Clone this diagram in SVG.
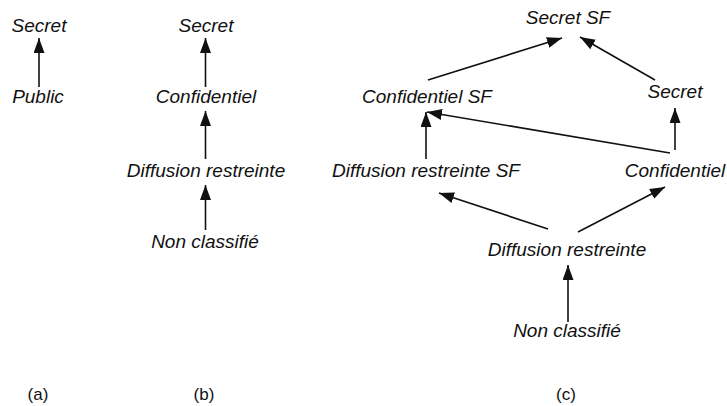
<svg xmlns="http://www.w3.org/2000/svg" width="727" height="406" viewBox="0 0 727 406">
<style>
.n{font-family:"Liberation Sans",Arial,sans-serif;font-style:italic;font-size:19px;fill:#111;text-anchor:middle}
.l{font-family:"Liberation Sans",Arial,sans-serif;font-size:17px;fill:#111;text-anchor:middle}
.e{stroke:#111;stroke-width:1.6;fill:none;marker-end:url(#ah)}
</style>
<defs>
<marker id="ah" markerUnits="userSpaceOnUse" markerWidth="16" markerHeight="12" refX="15" refY="5.5" orient="auto" viewBox="0 0 16 12">
<path d="M0,0 L15,5.5 L0,11 z" fill="#111"/>
</marker>
</defs>
<rect width="727" height="406" fill="#fff"/>
<g id="connectors">
<line class="e" x1="39" y1="87" x2="39" y2="38"/>
<line class="e" x1="205.5" y1="87" x2="205.5" y2="38"/>
<line class="e" x1="205.5" y1="159" x2="205.5" y2="111"/>
<line class="e" x1="205.5" y1="230" x2="205.5" y2="185"/>
<line class="e" x1="428" y1="80" x2="562" y2="38"/>
<line class="e" x1="655" y1="80" x2="580" y2="37"/>
<line class="e" x1="675" y1="150" x2="675" y2="108"/>
<line class="e" x1="670" y1="153" x2="427" y2="112"/>
<line class="e" x1="426" y1="159" x2="426" y2="112"/>
<line class="e" x1="548" y1="229" x2="439" y2="193"/>
<line class="e" x1="578" y1="232" x2="665" y2="187"/>
<line class="e" x1="568" y1="322" x2="568" y2="265"/>
</g>
<g id="a-secret"><text class="n" x="39" y="32">Secret</text></g>
<g id="a-public"><text class="n" x="38" y="103">Public</text></g>
<g id="b-secret"><text class="n" x="206" y="32">Secret</text></g>
<g id="b-confidentiel"><text class="n" x="206" y="103">Confidentiel</text></g>
<g id="b-diffusion"><text class="n" x="206" y="177">Diffusion restreinte</text></g>
<g id="b-nonclassifie"><text class="n" x="205" y="248">Non classifié</text></g>
<g id="c-secretsf"><text class="n" x="568" y="24">Secret SF</text></g>
<g id="c-confidentielsf"><text class="n" x="427" y="103">Confidentiel SF</text></g>
<g id="c-secret"><text class="n" x="675" y="98">Secret</text></g>
<g id="c-diffusionsf"><text class="n" x="426" y="177">Diffusion restreinte SF</text></g>
<g id="c-confidentiel"><text class="n" x="675" y="177">Confidentiel</text></g>
<g id="c-diffusion"><text class="n" x="567" y="256">Diffusion restreinte</text></g>
<g id="c-nonclassifie"><text class="n" x="567" y="337">Non classifié</text></g>
<g id="labels">
<text class="l" x="38" y="400">(a)</text>
<text class="l" x="204" y="400">(b)</text>
<text class="l" x="566" y="400">(c)</text>
</g>
</svg>
